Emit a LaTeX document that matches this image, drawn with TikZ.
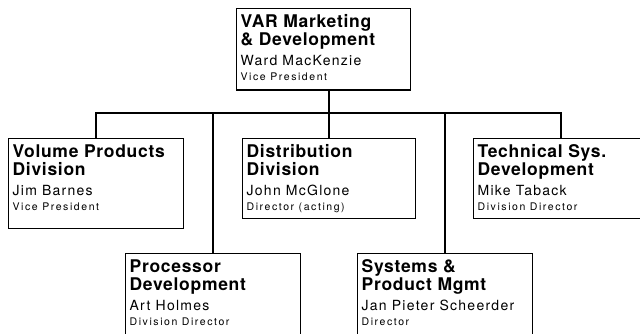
\documentclass[tikz,border=0pt]{standalone}
\usepackage{fontspec}
\setmainfont{TeX Gyre Heros}
\newfontfamily\titlefont[LetterSpace=4]{TeX Gyre Heros}
\newfontfamily\namefont[LetterSpace=9]{TeX Gyre Heros}
\newfontfamily\rolefont[LetterSpace=15]{TeX Gyre Heros}
\usetikzlibrary{positioning,calc}
\newcommand{\orgtext}[5]{\parbox[t][#2][t]{#1}{\raggedright
  {\titlefont\bfseries\fontsize{17.5}{17.7}\selectfont\rule{0pt}{19pt}#3\par}
  {\namefont\fontsize{14}{20.5}\selectfont #4\par}
  {\rolefont\fontsize{10.5}{14.5}\selectfont #5\par}}}

\begin{document}
\begin{tikzpicture}[x=1pt,y=-1pt,
    unit/.style={rectangle, draw, line width=1.3pt, anchor=north west, inner xsep=4pt, inner ysep=0pt},
    link/.style={line width=1.7pt}]
    \clip (0,0) rectangle (640,334);
    \node[unit] (var) at (236,8) {\orgtext{166pt}{81.5pt}{VAR Marketing\\\& Development}{Ward MacKenzie}{Vice President}};
    \node[unit] (vol) at (8,138) {\orgtext{167pt}{89.5pt}{Volume Products\\Division}{Jim Barnes}{Vice President}};
    \node[unit] (dist) at (242,138) {\orgtext{165pt}{80pt}{Distribution\\Division}{John McGlone}{Director (acting)}};
    \node[unit] (tech) at (473,138) {\orgtext{166pt}{80pt}{Technical Sys.\\Development}{Mike Taback}{Division Director}};
    \node[unit] (proc) at (125,253) {\orgtext{167pt}{95pt}{Processor\\Development}{Art Holmes}{Division Director}};
    \node[unit] (sys) at (357,253) {\orgtext{167pt}{95pt}{Systems \&\\Product Mgmt}{Jan Pieter Scheerder}{Director}};
    \coordinate (bus) at (0,113);
    \draw[link] (var.south -| dist.north) -- (dist.north);
    \draw[link] (vol.north) -- (vol.north |- bus) -- (tech.north |- bus) -- (tech.north);
    \draw[link] (proc.north) -- (proc.north |- bus);
    \draw[link] (sys.north) -- (sys.north |- bus);
\end{tikzpicture}
\end{document}
